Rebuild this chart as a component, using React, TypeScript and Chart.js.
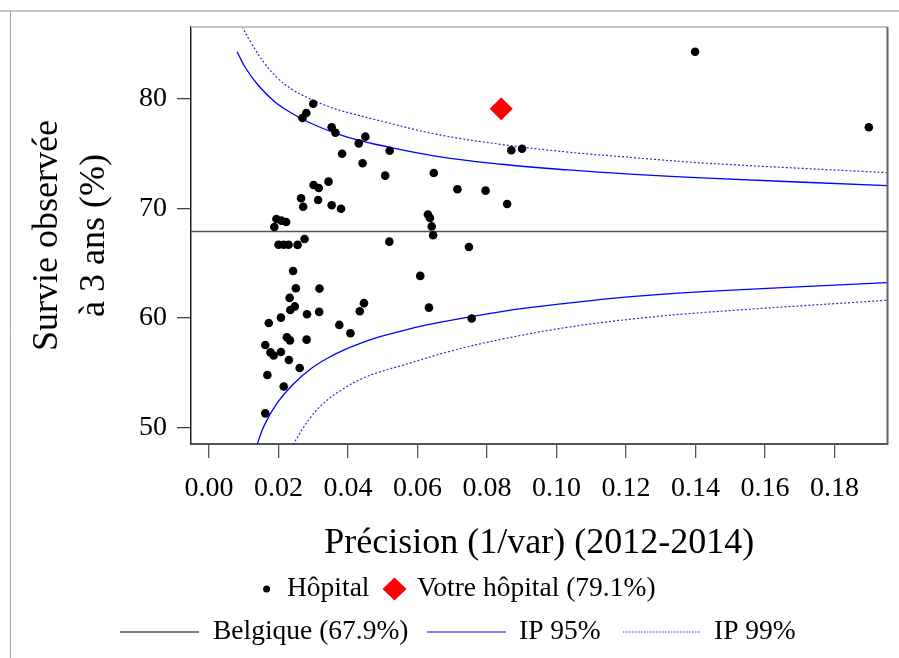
import React, { useEffect, useRef } from 'react';
import { Chart, registerables } from 'chart.js';

Chart.register(...registerables);

// ---- Data ----
const hospitalPrecision = [
  0.0300, 0.0280, 0.0269, 0.0353, 0.0364, 0.0450, 0.0431, 0.0383, 0.0520, 0.0442,
  0.0507, 0.0647, 0.0715, 0.0796, 0.0858, 0.0870, 0.0901, 0.0344, 0.0301, 0.0316,
  0.0265, 0.0271, 0.0314, 0.0353, 0.0380, 0.0194, 0.0208, 0.0222, 0.0188, 0.0630,
  0.0636, 0.0641, 0.0645, 0.1399, 0.1899, 0.0200, 0.0215, 0.0229, 0.0255, 0.0275,
  0.0519, 0.0748, 0.0242, 0.0608, 0.0250, 0.0318, 0.0232, 0.0247, 0.0234, 0.0282,
  0.0317, 0.0207, 0.0172, 0.0446, 0.0434, 0.0633, 0.0756, 0.0375, 0.0407, 0.0224,
  0.0233, 0.0281, 0.0162, 0.0177, 0.0186, 0.0207, 0.0230, 0.0261, 0.0168, 0.0215,
  0.0162,
];
const hospitalSurvival = [
  79.57, 78.72, 78.26, 77.42, 76.92, 76.56, 75.95, 75.00, 75.28, 74.13,
  73.00, 73.24, 71.75, 71.63, 70.41, 75.32, 75.46, 72.45, 72.15, 71.87,
  70.93, 70.16, 70.78, 70.29, 69.98, 69.04, 68.89, 68.77, 68.31, 69.45,
  69.13, 68.36, 67.55, 84.32, 77.42, 66.69, 66.69, 66.69, 66.67, 67.21,
  66.97, 66.48, 64.29, 63.84, 62.71, 62.68, 61.83, 61.05, 60.73, 60.34,
  60.55, 60.03, 59.54, 61.35, 60.61, 60.94, 59.94, 59.36, 58.60, 58.24,
  57.95, 58.02, 57.53, 56.85, 56.56, 56.89, 56.16, 55.42, 54.79, 53.74,
  51.28,
];

const yourHospitalPrecision = [0.0841];
const yourHospitalSurvival = [79.1];

const belgiqueValue = 67.9;

const ip95UpperX = [0.0081, 0.0103, 0.0141, 0.0189, 0.0237, 0.0284, 0.0332, 0.0380, 0.0427, 0.0475, 0.0652, 0.0842, 0.1033, 0.1224, 0.1434, 0.1953];
const ip95UpperY = [84.32, 82.95, 81.28, 79.75, 78.72, 77.92, 77.26, 76.71, 76.26, 75.89, 74.79, 74.04, 73.52, 73.12, 72.77, 72.08];

const ip95LowerX = [0.0138, 0.0160, 0.0198, 0.0246, 0.0294, 0.0341, 0.0389, 0.0437, 0.0485, 0.0561, 0.0652, 0.0842, 0.1033, 0.1224, 0.1434, 0.1953];
const ip95LowerY = [48.40, 50.25, 52.30, 54.05, 55.37, 56.32, 57.08, 57.69, 58.22, 58.87, 59.52, 60.58, 61.35, 61.97, 62.43, 63.22];

const ip99UpperX = [0.0095, 0.0122, 0.0160, 0.0198, 0.0237, 0.0284, 0.0332, 0.0380, 0.0427, 0.0475, 0.0652, 0.0842, 0.1033, 0.1224, 0.1434, 0.1953];
const ip99UpperY = [86.60, 85.09, 83.26, 81.89, 80.92, 80.12, 79.45, 78.93, 78.54, 78.15, 76.80, 75.85, 75.15, 74.64, 74.13, 73.27];

const ip99LowerX = [0.0241, 0.0294, 0.0341, 0.0389, 0.0437, 0.0485, 0.0561, 0.0699, 0.0842, 0.1033, 0.1224, 0.1434, 0.1953];
const ip99LowerY = [48.40, 50.99, 52.51, 53.58, 54.40, 55.00, 55.71, 57.00, 58.05, 59.15, 59.92, 60.52, 61.62];

const xTickValues = [0, 0.02, 0.04, 0.06, 0.08, 0.1, 0.12, 0.14, 0.16, 0.18];
const yTickValues = [50, 60, 70, 80];

const xMin = -0.00518;
const xMax = 0.19527;
const yMin = 48.48;
const yMax = 86.58;

const xTitle = 'Précision (1/var) (2012-2014)';
const yTitleLines = ['Survie observée', 'à 3 ans (%)'];
const legendHospital = 'Hôpital';
const legendYour = `Votre hôpital (${yourHospitalSurvival[0].toFixed(1)}%)`;
const legendBelgique = `Belgique (${belgiqueValue.toFixed(1)}%)`;
const legendIP95 = 'IP 95%';
const legendIP99 = 'IP 99%';

const FONT = '"Liberation Serif", "Times New Roman", serif';

const zip = (xs: number[], ys: number[]) => xs.map((x, i) => ({ x, y: ys[i] }));

const decorPlugin = {
  id: 'decor',
  afterDraw(chart: any) {
    const ctx: CanvasRenderingContext2D = chart.ctx;
    const ca = chart.chartArea;
    ctx.save();
    // outer frame
    ctx.strokeStyle = '#c8c8c8';
    ctx.lineWidth = 2;
    ctx.beginPath();
    ctx.moveTo(0, 11);
    ctx.lineTo(899, 11);
    ctx.stroke();
    ctx.strokeStyle = '#a8a8a8';
    ctx.lineWidth = 1;
    ctx.beginPath();
    ctx.moveTo(10.5, 11);
    ctx.lineTo(10.5, 658);
    ctx.stroke();

    // plot box: top and right
    ctx.strokeStyle = '#c4c4c4';
    ctx.lineWidth = 2;
    ctx.beginPath();
    ctx.moveTo(ca.left, ca.top);
    ctx.lineTo(ca.right, ca.top);
    ctx.stroke();
    ctx.strokeStyle = '#666';
    ctx.lineWidth = 2;
    ctx.beginPath();
    ctx.moveTo(ca.right, ca.top);
    ctx.lineTo(ca.right, ca.bottom);
    ctx.stroke();

    // axis titles
    ctx.fillStyle = '#000';
    ctx.font = `36px ${FONT}`;
    ctx.textAlign = 'center';
    ctx.textBaseline = 'alphabetic';
    ctx.fillText(xTitle, (ca.left + ca.right) / 2, 553);

    const cy = (ca.top + ca.bottom) / 2;
    const baselines = [57, 104];
    yTitleLines.forEach((line, i) => {
      ctx.save();
      ctx.translate(baselines[i], cy);
      ctx.rotate(-Math.PI / 2);
      ctx.fillText(line, 0, 0);
      ctx.restore();
    });

    // legend
    ctx.font = `27.5px ${FONT}`;
    ctx.textAlign = 'left';
    // row 1
    ctx.beginPath();
    ctx.arc(266.6, 589, 3.5, 0, Math.PI * 2);
    ctx.fillStyle = '#000';
    ctx.fill();
    ctx.fillText(legendHospital, 287, 596);
    ctx.fillStyle = '#ff0000';
    ctx.beginPath();
    ctx.moveTo(394.5 - 12, 589);
    ctx.lineTo(394.5, 589 - 11.5);
    ctx.lineTo(394.5 + 12, 589);
    ctx.lineTo(394.5, 589 + 11.5);
    ctx.closePath();
    ctx.fill();
    ctx.fillStyle = '#000';
    ctx.fillText(legendYour, 417, 596);
    // row 2
    ctx.lineWidth = 1;
    ctx.strokeStyle = '#000';
    ctx.beginPath();
    ctx.moveTo(120, 632);
    ctx.lineTo(199, 632);
    ctx.stroke();
    ctx.fillText(legendBelgique, 213, 639);
    ctx.strokeStyle = '#0000ff';
    ctx.beginPath();
    ctx.moveTo(427, 632);
    ctx.lineTo(506, 632);
    ctx.stroke();
    ctx.fillText(legendIP95, 519, 639);
    ctx.strokeStyle = '#2a2ad0';
    ctx.setLineDash([1.5, 1.5]);
    ctx.beginPath();
    ctx.moveTo(623, 632);
    ctx.lineTo(701, 632);
    ctx.stroke();
    ctx.setLineDash([]);
    ctx.fillText(legendIP99, 714, 639);
    ctx.restore();
  },
};

export default function App() {
  const canvasRef = useRef<HTMLCanvasElement | null>(null);

  useEffect(() => {
    if (!canvasRef.current) return;
    const curve = (xs: number[], ys: number[], dotted: boolean) => ({
      data: zip(xs, ys),
      showLine: true,
      borderColor: dotted ? '#2a2ad0' : '#0000ff',
      borderWidth: dotted ? 1.2 : 1.3,
      borderDash: dotted ? [2, 2] : [],
      pointRadius: 0,
      tension: 0.4,
      fill: false,
    });
    const chart = new Chart(canvasRef.current, {
      type: 'scatter',
      data: {
        datasets: [
          {
            data: zip(yourHospitalPrecision, yourHospitalSurvival),
            pointStyle: 'rectRot',
            pointRadius: 11.5,
            backgroundColor: '#ff0000',
            borderWidth: 0,
          },
          {
            data: zip(hospitalPrecision, hospitalSurvival),
            pointStyle: 'circle',
            pointRadius: 4.3,
            backgroundColor: '#000',
            borderWidth: 0,
          },
          {
            data: [
              { x: xMin, y: belgiqueValue },
              { x: xMax, y: belgiqueValue },
            ],
            showLine: true,
            borderColor: '#555',
            borderWidth: 1.5,
            pointRadius: 0,
          },
          curve(ip95UpperX, ip95UpperY, false),
          curve(ip95LowerX, ip95LowerY, false),
          curve(ip99UpperX, ip99UpperY, true),
          curve(ip99LowerX, ip99LowerY, true),
        ] as any,
      },
      options: {
        responsive: false,
        animation: false,
        devicePixelRatio: 1,
        layout: { padding: { top: 27, right: 8, left: 0, bottom: 0 } },
        plugins: {
          legend: { display: false },
          tooltip: { enabled: false },
          title: { display: false },
        },
        scales: {
          x: {
            type: 'linear',
            min: xMin,
            max: xMax,
            grid: { drawOnChartArea: false, drawTicks: true, tickLength: 14, color: '#555', lineWidth: 1.3 },
            border: { display: true, color: '#555', width: 2 },
            ticks: {
              font: { family: FONT, size: 28, lineHeight: 1.2 },
              color: '#000',
              padding: 14,
              maxRotation: 0,
              autoSkip: false,
              callback: (v: any) => Number(v).toFixed(2),
            },
            afterBuildTicks: (s: any) => {
              s.ticks = xTickValues.map((v) => ({ value: v }));
            },
            afterFit: (s: any) => {
              s.height = 214;
            },
          },
          y: {
            type: 'linear',
            min: yMin,
            max: yMax,
            grid: { drawOnChartArea: false, drawTicks: true, tickLength: 14, color: '#444', lineWidth: 1.3 },
            border: { display: true, color: '#222', width: 1.5 },
            ticks: {
              font: { family: FONT, size: 28, lineHeight: 1.2 },
              color: '#000',
              padding: 10,
              autoSkip: false,
              callback: (v: any) => String(v),
            },
            afterBuildTicks: (s: any) => {
              s.ticks = yTickValues.map((v) => ({ value: v }));
            },
            afterFit: (s: any) => {
              s.width = 191;
            },
          },
        },
      },
      plugins: [decorPlugin],
    });
    return () => chart.destroy();
  }, []);

  return (
    <div style={{ position: 'absolute', left: 0, top: 0, width: 899, height: 658, background: '#fff' }}>
      <canvas ref={canvasRef} width={899} height={658} style={{ display: 'block' }} />
    </div>
  );
}
